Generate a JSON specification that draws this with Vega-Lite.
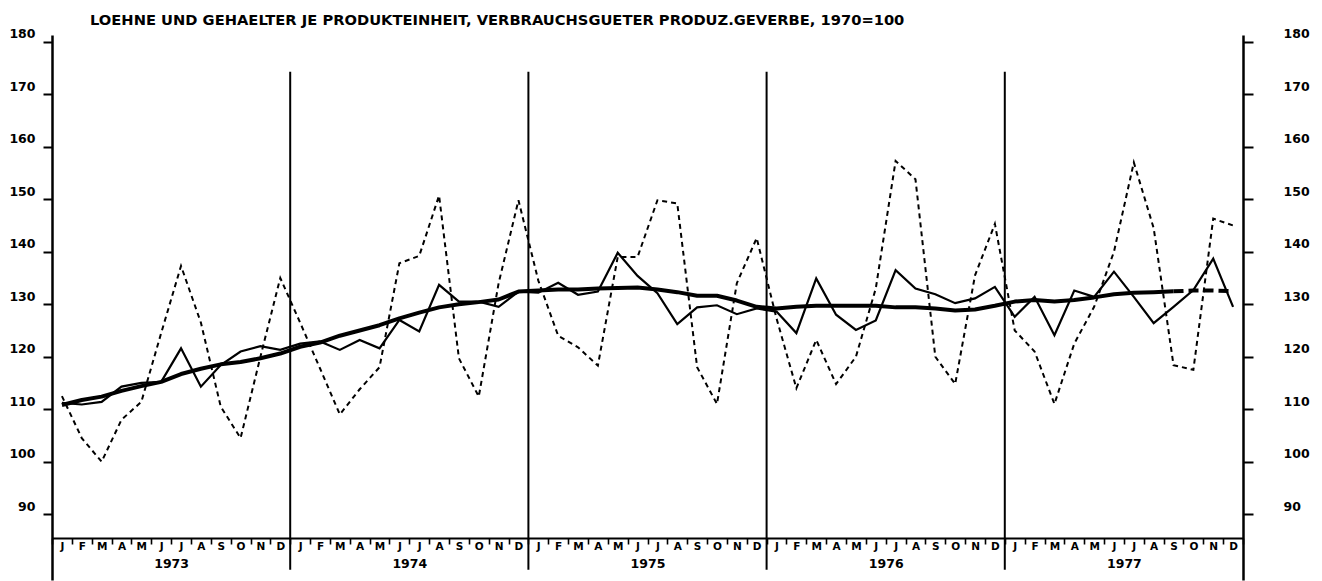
{
  "$schema": "https://vega.github.io/schema/vega-lite/v6.json",
  "autosize": {"type": "none"},
  "padding": {"left": 52, "top": 35, "right": 79, "bottom": 1},
  "width": 1191,
  "height": 545,
  "background": "white",
  "title": {
    "text": "LOEHNE UND GEHAELTER JE PRODUKTEINHEIT, VERBRAUCHSGUETER PRODUZ.GEVERBE, 1970=100",
    "anchor": "start",
    "frame": "group",
    "dx": 38,
    "dy": 16,
    "offset": 4,
    "baseline": "alphabetic",
    "font": "DejaVu Sans",
    "fontSize": 14.7,
    "fontWeight": "bold",
    "color": "black"
  },
  "config": {
    "view": {"stroke": null},
    "axis": {
      "domainColor": "black",
      "tickColor": "black",
      "labelColor": "black",
      "labelFont": "DejaVu Sans",
      "labelFontWeight": "bold",
      "grid": false
    }
  },
  "data": {
    "values": [
      {"t": 0, "o": 112.5, "a": 111.2, "r": 110.8},
      {"t": 1, "o": 104.5, "a": 110.9, "r": 111.75},
      {"t": 2, "o": 100, "a": 111.4, "r": 112.4},
      {"t": 3, "o": 108, "a": 114.3, "r": 113.5},
      {"t": 4, "o": 111.4, "a": 115, "r": 114.4},
      {"t": 5, "o": 124.5, "a": 115.2, "r": 115.2},
      {"t": 6, "o": 137.3, "a": 121.6, "r": 116.7},
      {"t": 7, "o": 126.5, "a": 114.3, "r": 117.7},
      {"t": 8, "o": 110.5, "a": 118.4, "r": 118.55},
      {"t": 9, "o": 104.5, "a": 121, "r": 119},
      {"t": 10, "o": 120, "a": 122, "r": 119.7},
      {"t": 11, "o": 135, "a": 121.3, "r": 120.6},
      {"t": 12, "o": 126.5, "a": 122.5, "r": 121.9},
      {"t": 13, "o": 117.8, "a": 122.9, "r": 122.7},
      {"t": 14, "o": 109, "a": 121.3, "r": 124},
      {"t": 15, "o": 113.8, "a": 123.2, "r": 125},
      {"t": 16, "o": 118, "a": 121.6, "r": 126},
      {"t": 17, "o": 137.8, "a": 127, "r": 127.3},
      {"t": 18, "o": 139.2, "a": 124.8, "r": 128.4},
      {"t": 19, "o": 150.7, "a": 133.7, "r": 129.4},
      {"t": 20, "o": 119.7, "a": 130.5, "r": 130},
      {"t": 21, "o": 112.4, "a": 130.5, "r": 130.4},
      {"t": 22, "o": 134, "a": 129.5, "r": 130.9},
      {"t": 23, "o": 149.8, "a": 132.4, "r": 132.4},
      {"t": 24, "o": 134.5, "a": 132.2, "r": 132.6},
      {"t": 25, "o": 124, "a": 134.1, "r": 132.8},
      {"t": 26, "o": 121.8, "a": 131.8, "r": 132.8},
      {"t": 27, "o": 118.3, "a": 132.4, "r": 133},
      {"t": 28, "o": 139, "a": 139.8, "r": 133.1},
      {"t": 29, "o": 139, "a": 135.4, "r": 133.2},
      {"t": 30, "o": 149.8, "a": 132.1, "r": 132.8},
      {"t": 31, "o": 149.2, "a": 126.2, "r": 132.3},
      {"t": 32, "o": 118, "a": 129.4, "r": 131.6},
      {"t": 33, "o": 111, "a": 129.8, "r": 131.6},
      {"t": 34, "o": 134, "a": 128.1, "r": 130.7},
      {"t": 35, "o": 142.6, "a": 129.2, "r": 129.5},
      {"t": 36, "o": 127.3, "a": 128.6, "r": 129.2},
      {"t": 37, "o": 114, "a": 124.5, "r": 129.5},
      {"t": 38, "o": 123.2, "a": 134.9, "r": 129.7},
      {"t": 39, "o": 114.8, "a": 128, "r": 129.7},
      {"t": 40, "o": 120, "a": 125.1, "r": 129.7},
      {"t": 41, "o": 133, "a": 126.9, "r": 129.7},
      {"t": 42, "o": 157.3, "a": 136.5, "r": 129.4},
      {"t": 43, "o": 153.8, "a": 133, "r": 129.4},
      {"t": 44, "o": 120, "a": 131.9, "r": 129.2},
      {"t": 45, "o": 114.8, "a": 130.2, "r": 128.8},
      {"t": 46, "o": 135.5, "a": 131.1, "r": 129},
      {"t": 47, "o": 145.3, "a": 133.3, "r": 129.7},
      {"t": 48, "o": 125, "a": 127.6, "r": 130.5},
      {"t": 49, "o": 121, "a": 131.4, "r": 130.8},
      {"t": 50, "o": 111, "a": 124.1, "r": 130.5},
      {"t": 51, "o": 122.5, "a": 132.6, "r": 130.8},
      {"t": 52, "o": 129.5, "a": 131.4, "r": 131.3},
      {"t": 53, "o": 140, "a": 136.2, "r": 131.9},
      {"t": 54, "o": 157, "a": 131.4, "r": 132.2},
      {"t": 55, "o": 144.5, "a": 126.4, "r": 132.3},
      {"t": 56, "o": 118.4, "a": 129.5, "r": 132.45},
      {"t": 57, "o": 117.5, "a": 132.7, "r": 132.6},
      {"t": 58, "o": 146.3, "a": 138.7, "r": 132.6},
      {"t": 59, "o": 145, "a": 129.5, "r": 132.5}
    ]
  },
  "layer": [
    {
      "mark": {"type": "line", "color": "black", "strokeWidth": 2, "strokeDash": [5, 4]},
      "encoding": {
        "x": {
          "field": "t", "type": "quantitative",
          "scale": {"domain": [-0.5, 59.5], "nice": false, "zero": false},
          "axis": {
            "orient": "bottom", "title": null, "offset": -42,
            "values": [-0.5,0.5,1.5,2.5,3.5,4.5,5.5,6.5,7.5,8.5,9.5,10.5,11.5,12.5,13.5,14.5,15.5,16.5,17.5,18.5,19.5,20.5,21.5,22.5,23.5,24.5,25.5,26.5,27.5,28.5,29.5,30.5,31.5,32.5,33.5,34.5,35.5,36.5,37.5,38.5,39.5,40.5,41.5,42.5,43.5,44.5,45.5,46.5,47.5,48.5,49.5,50.5,51.5,52.5,53.5,54.5,55.5,56.5,57.5,58.5,59.5],
            "labels": false, "domainWidth": 2.2, "tickSize": 6, "tickWidth": 1.6
          }
        },
        "y": {
          "field": "o", "type": "quantitative",
          "scale": {"domain": [77.47, 181.28], "nice": false, "zero": false},
          "axis": {
            "orient": "left", "title": null,
            "values": [90, 100, 110, 120, 130, 140, 150, 160, 170, 180],
            "domainWidth": 2.5, "tickSize": 9, "tickWidth": 2,
            "labelPadding": 8, "labelFontSize": 12.5, "labelBaseline": "alphabetic", "labelOffset": -4
          }
        }
      }
    },
    {
      "mark": {"type": "line", "color": "black", "strokeWidth": 2.2},
      "encoding": {
        "x": {
          "field": "t", "type": "quantitative",
          "axis": {
            "orient": "bottom", "title": null, "offset": -42,
            "values": [0,1,2,3,4,5,6,7,8,9,10,11,12,13,14,15,16,17,18,19,20,21,22,23,24,25,26,27,28,29,30,31,32,33,34,35,36,37,38,39,40,41,42,43,44,45,46,47,48,49,50,51,52,53,54,55,56,57,58,59],
            "labelExpr": "['J','F','M','A','M','J','J','A','S','O','N','D'][datum.value % 12]",
            "ticks": false, "tickSize": 0, "domain": false,
            "labelPadding": 3, "labelFontSize": 10.5, "labelAngle": 0, "labelOverlap": false, "labelFlush": false
          }
        },
        "y": {
          "field": "a", "type": "quantitative",
          "axis": {
            "orient": "right", "title": null,
            "values": [90, 100, 110, 120, 130, 140, 150, 160, 170, 180],
            "domainWidth": 2.5, "tickSize": 10, "tickWidth": 2,
            "labelPadding": 30, "labelFontSize": 12.5, "labelBaseline": "alphabetic", "labelOffset": -4
          }
        }
      }
    },
    {
      "transform": [{"filter": "datum.t <= 56"}],
      "mark": {"type": "line", "color": "black", "strokeWidth": 4, "strokeJoin": "round"},
      "encoding": {
        "x": {
          "field": "t", "type": "quantitative",
          "axis": {
            "orient": "bottom", "title": null, "offset": -42,
            "values": [5.5, 17.5, 29.5, 41.5, 53.5],
            "labelExpr": "'' + (1973 + floor(datum.value / 12))",
            "ticks": false, "tickSize": 0, "domain": false,
            "labelPadding": 19, "labelFontSize": 12.5, "labelFlush": false, "labelOverlap": false
          }
        },
        "y": {"field": "r", "type": "quantitative", "axis": null}
      }
    },
    {
      "transform": [{"filter": "datum.t >= 56"}],
      "mark": {"type": "line", "color": "black", "strokeWidth": 4, "strokeDash": [10, 5]},
      "encoding": {
        "x": {"field": "t", "type": "quantitative", "axis": null},
        "y": {"field": "r", "type": "quantitative", "axis": null}
      }
    },
    {
      "data": {"values": [{"b": 11.5}, {"b": 23.5}, {"b": 35.5}, {"b": 47.5}]},
      "mark": {"type": "rule", "color": "black", "strokeWidth": 2},
      "encoding": {
        "x": {"field": "b", "type": "quantitative", "axis": null},
        "y": {"datum": 174.3, "type": "quantitative", "axis": null},
        "y2": {"datum": 79.4}
      }
    }
  ],
  "resolve": {"axis": {"x": "independent", "y": "independent"}}
}
